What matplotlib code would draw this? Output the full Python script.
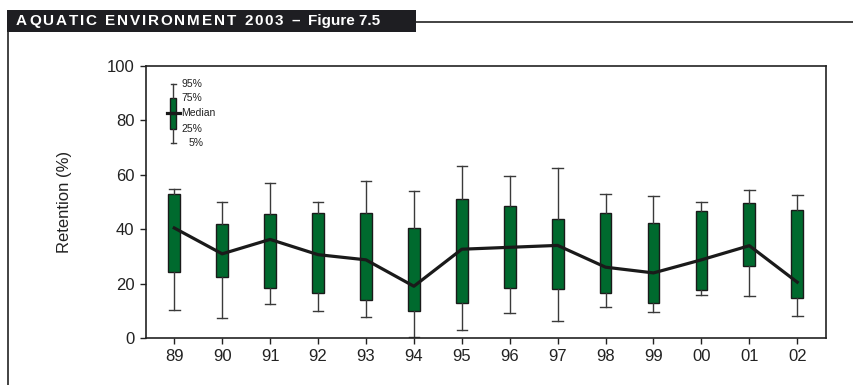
import matplotlib.pyplot as plt
from matplotlib.lines import Line2D
from matplotlib.patches import Rectangle
from matplotlib.font_manager import FontProperties, findfont, get_font

plt.rcParams['font.family'] = ['Liberation Sans', 'DejaVu Sans']

# yearly retention percentiles
years = ['89', '90', '91', '92', '93', '94', '95', '96', '97', '98', '99', '00', '01', '02']
p95 = [54.7, 49.9, 57.1, 50.1, 57.6, 53.9, 63.0, 59.4, 62.5, 52.8, 52.2, 49.9, 54.3, 52.5]
p75 = [52.8, 41.8, 45.5, 46.0, 45.8, 40.5, 50.9, 48.4, 43.7, 45.8, 42.2, 46.8, 49.7, 46.9]
median = [40.4, 30.9, 36.2, 30.6, 28.7, 19.0, 32.6, 33.3, 34.0, 26.0, 23.9, 28.7, 33.9, 20.5]
p25 = [24.4, 22.3, 18.5, 16.4, 13.9, 9.9, 12.9, 18.3, 17.9, 16.7, 12.7, 17.7, 26.3, 14.7]
p5 = [10.1, 7.4, 12.5, 9.9, 7.6, 0.2, 2.8, 9.2, 6.3, 11.3, 9.7, 15.9, 15.6, 8.0]

# key in the upper left corner
key_labels = ['95%', '75%', 'Median', '25%', '5%']
key_values = [93.3, 88.1, 82.6, 76.7, 71.5]

header_caps = 'AQUATIC ENVIRONMENT 2003 \u2013'
header_tail = 'Figure 7.5'

green = '#006a2e'

fig = plt.figure(figsize=(8.54, 3.85), dpi=100)
ax = fig.add_axes([0.1704, 0.1221, 0.7968, 0.7073])

pos = list(range(len(years)))
stats = [dict(whislo=lo, q1=a, med=m, q3=b, whishi=hi)
         for lo, a, m, b, hi in zip(p5, p25, median, p75, p95)]
ax.bxp(stats, positions=pos, widths=0.245, showfliers=False, patch_artist=True,
       boxprops=dict(facecolor=green, edgecolor='#1a1a1a', linewidth=1.0),
       whiskerprops=dict(color='#3a3a3a', linewidth=1.0),
       capprops=dict(color='#3a3a3a', linewidth=1.0),
       medianprops=dict(linewidth=0), capwidths=0.22, manage_ticks=False)
ax.plot(pos, median, color='#1a1a1a', linewidth=2.3, zorder=5)

# key box
kx = -0.02
key_stat = [dict(whislo=key_values[4], q1=key_values[3], med=key_values[2],
                 q3=key_values[1], whishi=key_values[0])]
ax.bxp(key_stat, positions=[kx], widths=0.125, showfliers=False, patch_artist=True,
       boxprops=dict(facecolor=green, edgecolor='#1a1a1a', linewidth=1.0),
       whiskerprops=dict(color='#3a3a3a', linewidth=1.0),
       capprops=dict(color='#3a3a3a', linewidth=1.0),
       medianprops=dict(color='#1a1a1a', linewidth=2.3), capwidths=0.11,
       manage_ticks=False)
ax.plot([kx - 0.13, kx + 0.13], [key_values[2]] * 2, color='#1a1a1a', linewidth=2.3)
for i, (lab, v) in enumerate(zip(key_labels, key_values)):
    dx = 0.17 if i < 4 else 0.31
    ax.text(kx + dx, v, lab, fontsize=7.5, va='center', ha='left', color='#222222')

ax.set_xlim(-0.6, len(years) - 0.4)
ax.set_ylim(0, 100)
ax.set_xticks(pos)
ax.set_xticklabels(years)
ax.set_yticks([0, 20, 40, 60, 80, 100])
ax.tick_params(direction='out', length=4, width=1.0, labelsize=12, colors='#222222', pad=4)
for s in ax.spines.values():
    s.set_linewidth(1.2)
    s.set_color('#222222')
ax.set_ylabel('Retention (%)', fontsize=12, color='#222222', labelpad=25)

# page header
W, H = 854, 385
fig.patches.append(Rectangle((7.5 / W, 1 - 31.5 / H), 408.5 / W, 21.5 / H,
                             transform=fig.transFigure, facecolor='#1e1e22',
                             edgecolor='none'))
fig.lines.append(Line2D([416 / W, 1], [1 - 21.7 / H] * 2, transform=fig.transFigure,
                        color='#222222', linewidth=1.2))
fig.lines.append(Line2D([7.7 / W, 7.7 / W], [0, 1 - 31.5 / H], transform=fig.transFigure,
                        color='#222222', linewidth=1.2))

# letter-spaced header caption, placed glyph by glyph on the font's advances
hsize = 11.0
ft = get_font(findfont(FontProperties(family='Liberation Sans', weight='bold')))
ft.set_size(hsize, 100)
adv = [ft.load_char(ord(c)).linearHoriAdvance / 65536 for c in header_caps]
x0, x1 = 16.0, 300.0
track = (x1 - x0 - sum(adv)) / (len(header_caps) - 1)
x = x0
for c, a in zip(header_caps, adv):
    fig.text(x / W, 1 - 21 / H, c, color='white', fontsize=hsize,
             fontweight='bold', va='center', ha='left')
    x += a + track
fig.text(308 / W, 1 - 21 / H, header_tail, color='white', fontsize=hsize,
         fontweight='bold', va='center', ha='left')

fig.savefig('out.png', dpi=100)
